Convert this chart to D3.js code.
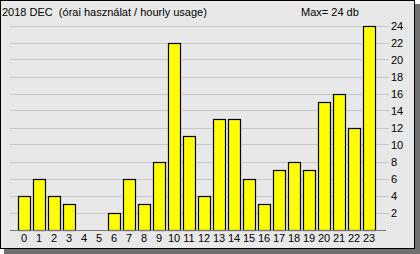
<!DOCTYPE html>
<html>
<head>
<meta charset="utf-8">
<script src="https://cdn.jsdelivr.net/npm/d3@7"></script>
<style>
  body { margin: 0; background: #ffffff; }
  text { font-family: "Liberation Sans", Arial, sans-serif; font-size: 11px; fill: #000; white-space: pre; }
</style>
</head>
<body>
<svg id="chart" width="420" height="254"></svg>
<script>
var hours = d3.range(0, 24);
var usage = [4, 6, 4, 3, 0, 0, 2, 6, 3, 8, 22, 11, 4, 13, 13, 6, 3, 7, 8, 7, 15, 16, 12, 24];
var yTicks = [2, 4, 6, 8, 10, 12, 14, 16, 18, 20, 22, 24];
var title = "2018 DEC  (órai használat / hourly usage)";
var maxLabel = "Max= " + d3.max(usage) + " db";

var svg = d3.select("#chart");

// drop shadow + panel
svg.append("rect").attr("x", 4).attr("y", 4).attr("width", 416).attr("height", 250).attr("fill", "#707070");
svg.append("rect").attr("x", 0.5).attr("y", 0.5).attr("width", 414).attr("height", 248)
    .attr("fill", "#e8e8e8").attr("stroke", "#000").attr("stroke-width", 1);

var x = d3.scaleBand()
    .domain(hours)
    .range([12, 12 + 15 * 24.6])
    .paddingInner(0.2)
    .paddingOuter(0.4);

var y = d3.scaleLinear()
    .domain([0, 24])
    .range([229.5, 25.5]);

// gridlines
svg.append("g")
  .selectAll("line")
  .data(yTicks)
  .enter().append("line")
    .attr("x1", 10)
    .attr("x2", 389)
    .attr("y1", function(d) { return Math.round(y(d)) + 0.5; })
    .attr("y2", function(d) { return Math.round(y(d)) + 0.5; })
    .attr("stroke", "#c8c8c8");

// bars (zero hours get no bar)
var barData = hours.map(function(h) { return {hour: h, value: usage[h]}; })
    .filter(function(d) { return d.value > 0; });

svg.append("g")
  .selectAll("rect")
  .data(barData)
  .enter().append("rect")
    .attr("x", function(d) { return Math.round(x(d.hour)) + 0.5; })
    .attr("y", function(d) { return Math.round(y(d.value)) + 0.5; })
    .attr("width", x.bandwidth())
    .attr("height", function(d) { return Math.round(y(0)) - Math.round(y(d.value)); })
    .attr("fill", "#ffff00")
    .attr("stroke", "#000")
    .attr("stroke-width", 1.2);

// x axis
var xAxis = svg.append("g")
    .attr("transform", "translate(0," + (Math.round(y(0)) + 0.5) + ")")
    .call(d3.axisBottom(x).tickSize(0).tickPadding(4));
xAxis.select(".domain").remove();
xAxis.append("line").attr("x1", 10).attr("x2", 386).attr("stroke", "#777");
xAxis.selectAll("text").style("font-size", "11px").attr("font-family", null);

// y axis (right side)
var yAxis = svg.append("g")
    .attr("transform", "translate(389,0)")
    .call(d3.axisRight(y).tickValues(yTicks).tickSize(0).tickPadding(2));
yAxis.select(".domain").remove();
yAxis.selectAll("text").style("font-size", "11px").attr("font-family", null);

svg.append("text").attr("x", 2).attr("y", 16).text(title);
svg.append("text").attr("x", 301).attr("y", 16).text(maxLabel);
</script>
</body>
</html>
